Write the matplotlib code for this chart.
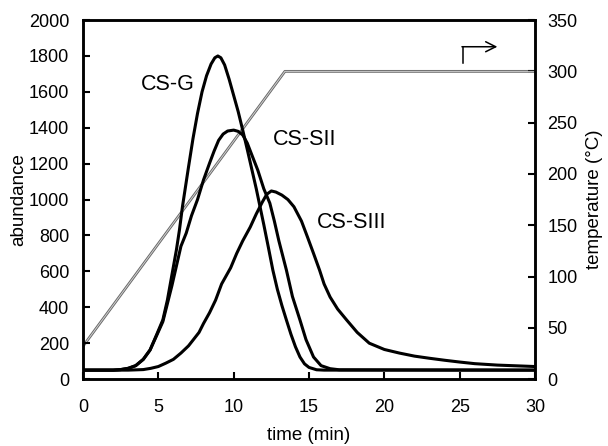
import numpy as np
import matplotlib
matplotlib.use('Agg')
from matplotlib import pyplot as plt

# chromatogram traces (time in min, abundance)
t_g = [0, 1, 2, 2.5, 3, 3.5, 4, 4.45, 4.9, 5.3, 5.6, 5.9, 6.2, 6.4, 6.6, 6.8, 7.0, 7.3, 7.6, 7.9, 8.2, 8.5, 8.75, 8.95,
       9.15, 9.4, 9.7, 10.0, 10.3, 10.6, 10.9, 11.2, 11.5, 11.7, 12.0, 12.3, 12.6, 12.9, 13.2, 13.5, 13.8, 14.1, 14.4,
       14.7, 15.0, 15.5, 16, 30]
y_g = [50, 50, 50, 53, 60, 75, 110, 162, 250, 330, 440, 580, 720, 830, 960, 1070, 1180, 1340, 1480, 1600, 1690, 1755, 1790, 1800,
       1790, 1750, 1670, 1580, 1490, 1387, 1280, 1170, 1060, 980, 860, 735, 607, 500, 410, 329, 250, 180, 123,
       85, 65, 52, 50, 50]

t_s2 = [0, 2, 2.5, 3, 3.5, 4, 4.45, 4.9, 5.3, 5.6, 5.9, 6.2, 6.5, 6.85, 7.2, 7.6, 8.0, 8.4, 8.7, 9.0, 9.3, 9.6, 10.0,
        10.3, 10.6, 10.9, 11.2, 11.6, 12.0, 12.4, 12.7, 13.0, 13.5, 13.9, 14.4, 14.8, 15.3, 15.8, 16.4, 17, 30]
y_s2 = [50, 50, 53, 60, 75, 110, 162, 245, 320, 420, 520, 630, 740, 813, 910, 1000, 1110, 1203, 1270, 1330, 1365, 1382, 1387,
        1380, 1360, 1315, 1250, 1164, 1060, 980, 880, 770, 607, 460, 329, 220, 123, 75, 58, 52, 50]

t_s3 = [0, 3, 4, 4.5, 5, 5.5, 6, 6.5, 7.0, 7.3, 7.7, 8.0, 8.4, 8.8, 9.2, 9.6, 9.8, 10.2, 10.6, 11.1, 11.5, 11.9, 12.2,
        12.5, 12.8, 13.2, 13.6, 14.0, 14.5, 14.9, 15.3, 15.7, 16.0, 16.4, 16.9, 17.5, 18.2, 19.0, 20.0, 21.0, 22.0,
        23.0, 24.0, 25.0, 26.0, 27.5, 30]
y_s3 = [50, 50, 53, 60, 70, 89, 110, 145, 185, 217, 260, 310, 370, 440, 530, 590, 620, 700, 770, 847, 920, 986, 1030,
        1048, 1042, 1025, 1000, 960, 880, 791, 700, 607, 530, 457, 390, 329, 260, 200, 165, 145, 128,
        116, 105, 95, 86, 78, 70]

# oven temperature programme
t_temp = [0, 13.4, 30]
temp = [32, 300, 300]

labels = ['CS-G', 'CS-SII', 'CS-SIII']
label_pos = [(5.6, 1640), (14.7, 1333), (17.85, 872)]

plt.rcParams['font.family'] = ['Liberation Sans', 'DejaVu Sans']

fig = plt.figure(figsize=(6.08, 4.46), dpi=100)
ax = fig.add_axes([0.1365, 0.150, 0.7435, 0.805])
ax2 = ax.twinx()

ax2.plot(t_temp, temp, color='#666666', lw=2.0, zorder=1)
ax2.plot(t_temp, temp, color='#d0d0d0', lw=0.7, zorder=2)
ax2.annotate('', xy=(27.5, 324), xytext=(25.15, 324),
             arrowprops=dict(arrowstyle='->', color='black', lw=1.1, mutation_scale=18, shrinkA=0, shrinkB=0))
ax2.plot([25.2, 25.2], [308, 324], color='black', lw=1.1)

for t, y in [(t_g, y_g), (t_s2, y_s2), (t_s3, y_s3)]:
    ax.plot(t, y, color='black', lw=2.2, solid_joinstyle='round', zorder=3)
ax.set_zorder(ax2.get_zorder() + 1)
ax.patch.set_visible(False)

for lab, (x, y) in zip(labels, label_pos):
    ax.text(x, y, lab, fontsize=15.5, ha='center', va='center')

ax.set_xlim(0, 30)
ax.set_ylim(0, 2000)
ax2.set_ylim(0, 350)
ax.set_xticks(range(0, 31, 5))
ax.set_yticks(range(0, 2001, 200))
ax2.set_yticks(range(0, 351, 50))

ax.set_xlabel('time (min)', fontsize=13.5, labelpad=8)
ax.set_ylabel('abundance', fontsize=13.5, labelpad=1)
ax2.set_ylabel('temperature (°C)', fontsize=13.5, labelpad=6)

ax.tick_params(axis='x', direction='in', length=5, width=1.5, labelsize=13, pad=14)
ax.tick_params(axis='y', direction='in', length=5, width=1.5, labelsize=13, pad=10)
ax2.tick_params(axis='y', direction='in', length=5, width=1.5, labelsize=13, pad=9)

for a in (ax, ax2):
    for s in a.spines.values():
        s.set_linewidth(1.8)

fig.savefig('out.png', dpi=100)
